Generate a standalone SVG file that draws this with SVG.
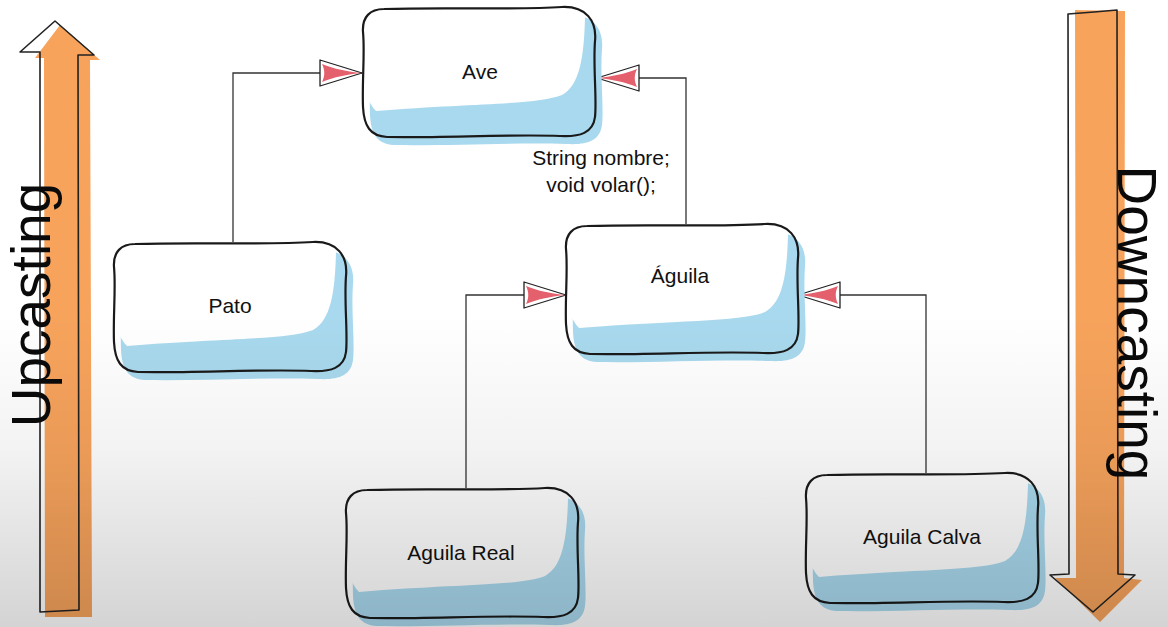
<svg xmlns="http://www.w3.org/2000/svg" width="1168" height="627" viewBox="0 0 1168 627">
<style>
.lbl{font-family:"Liberation Sans",Arial,Helvetica,sans-serif;font-size:21px;fill:#111;text-anchor:middle}
.big{font-family:"Liberation Sans",Arial,Helvetica,sans-serif;font-size:55px;fill:#0a0a0a;text-anchor:middle}
.edge{fill:none;stroke:#333;stroke-width:1.3}
.outline{fill:none;stroke:#1a1a1a;stroke-width:2.2;stroke-linejoin:round}
.shadow{fill:#a9d9ee}
.paper{fill:#ffffff}
.orange{fill:#f7a35c}
.aout{fill:none;stroke:#222;stroke-width:1.6;stroke-linejoin:round}
</style>
<defs>
<linearGradient id="shade" x1="0" y1="0" x2="0" y2="1">
<stop offset="0" stop-color="#000" stop-opacity="0"/>
<stop offset="0.5" stop-color="#000" stop-opacity="0"/>
<stop offset="0.72" stop-color="#000" stop-opacity="0.05"/>
<stop offset="1" stop-color="#000" stop-opacity="0.17"/>
</linearGradient>
<path id="nodeOutline" d="M22,2 C80,0 150,3 200,0 C224,-1 235,14 233,34 C231,60 235,92 233,110 C231,126 218,130 198,129 C150,127 80,131 25,130 C8,129 2,119 1,100 C0,75 3,45 1,25 C0,10 8,2 22,2 Z"/>
<path id="nodePaper" d="M22,2 C80,0 150,3 200,0 C212,-0.5 219,3 223,10 C222,50 218,78 200,88 C175,98 110,96 14,104 C6,96 1,82 1,60 C0,45 3,35 1,25 C0,10 8,2 22,2 Z"/>
<g id="nodeShape">
<use href="#nodeOutline" class="shadow" transform="translate(7,8)"/>
<use href="#nodePaper" class="paper"/>
<use href="#nodeOutline" class="outline"/>
</g>
<marker id="inherit" viewBox="0 0 44 28" refX="43" refY="14" markerWidth="44" markerHeight="28" markerUnits="userSpaceOnUse" orient="auto">
<polygon points="1,1 43,14 1,27" fill="#fff" stroke="#222" stroke-width="1.3" stroke-linejoin="round"/>
<path d="M3,5 C15,10 28,12.5 43,14 C28,15.5 15,18 3,23 C6,17 6,11 3,5 Z" fill="#e4606d"/>
</marker>
</defs>
<rect width="1168" height="627" fill="#ffffff"/>

<g id="upcasting">
<path class="orange" d="M44,58 L35,58 L60,25 L100,60 L90,60 L92,617 L45,617 Z"/>
<path class="aout" d="M40,52 L20,52 L55,21 L94,55 L78,55 L79,610 L40,612 Z"/>
<text class="big" transform="translate(50,305) rotate(-90)">Upcasting</text>
</g>

<g id="downcasting">
<path class="orange" d="M1075,10 L1125,11 L1124,578 L1142,580 L1100,622 L1055,578 L1076,578 Z"/>
<path class="aout" d="M1068,14 L1094,12 L1117,10 L1118,574 L1135,575 L1093,612 L1050,575 L1069,574 Z"/>
<text class="big" transform="translate(1118,323) rotate(90)">Downcasting</text>
</g>

<g id="connectors">
<path class="edge" d="M233,242 V73 H362" marker-end="url(#inherit)"/>
<path class="edge" d="M686,224 V78 H597" marker-end="url(#inherit)"/>
<path class="edge" d="M466,488 V295 H566" marker-end="url(#inherit)"/>
<path class="edge" d="M926,473 V295 H798" marker-end="url(#inherit)"/>
</g>

<g id="node-ave">
<use href="#nodeShape" transform="translate(362,7)"/>
<text class="lbl" x="480" y="79">Ave</text>
</g>
<g id="node-pato">
<use href="#nodeShape" transform="translate(113,242)"/>
<text class="lbl" x="230" y="313">Pato</text>
</g>
<g id="node-aguila">
<use href="#nodeShape" transform="translate(565,224)"/>
<text class="lbl" x="680" y="283">Águila</text>
</g>
<g id="node-aguila-real">
<use href="#nodeShape" transform="translate(345,488)"/>
<text class="lbl" x="461" y="560">Aguila Real</text>
</g>
<g id="node-aguila-calva">
<use href="#nodeShape" transform="translate(805,473)"/>
<text class="lbl" x="922" y="544">Aguila Calva</text>
</g>

<g id="attributes">
<text class="lbl" x="601" y="165">String nombre;</text>
<text class="lbl" x="601" y="192">void volar();</text>
</g>

<rect width="1168" height="627" fill="url(#shade)" pointer-events="none"/>
</svg>
